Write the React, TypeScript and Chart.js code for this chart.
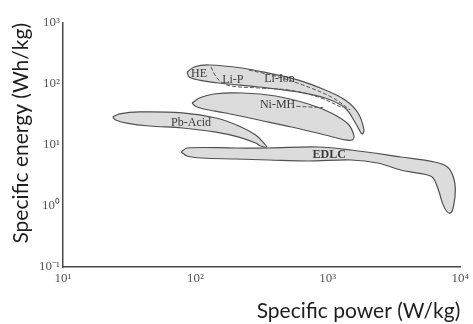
import React, { useEffect, useRef } from 'react';
import { Chart, registerables } from 'chart.js';

Chart.register(...registerables);

// Axis ticks
const xTickValues = [10, 100, 1000, 10000];
const xTickLabels = ['10¹', '10²', '10³', '10⁴'];
const yTickValues = [0.1, 1, 10, 100, 1000];
const yTickLabels = ['10⁻¹', '10⁰', '10¹', '10²', '10³'];

const xTitle = 'Specific power (W/kg)';
const yTitle = 'Specific energy (Wh/kg)';

// Li-based region outline (HE / Li-P / Li-Ion)
const liPower = [86.6, 97.8, 126.7, 224, 357, 600, 956, 1351, 1691, 1875, 1812, 1634, 1351, 956, 600, 301, 151, 107, 89.7, 86.6];
const liEnergy = [157, 190, 205, 183, 151, 116, 79.7, 54.7, 33.5, 17.6, 15.1, 22.1, 40.4, 58.9, 73.9, 89.3, 103.8, 116, 130, 157];

// Ni-MH outline
const nimhPower = [94.5, 107, 138, 224, 403, 713, 1060, 1422, 1578, 1525, 1351, 956, 531, 301, 170, 116, 99.5, 94.5];
const nimhEnergy = [48.8, 58.9, 68.6, 71.2, 63.6, 47.0, 33.5, 22.1, 14.0, 12.1, 12.1, 14.6, 19.7, 25.7, 33.5, 38.9, 43.6, 48.8];

// Pb-Acid outline
const pbPower = [23.7, 26.8, 37.8, 79.5, 143, 213, 285, 328, 345, 311, 285, 213, 143, 79.5, 45.0, 30.2, 25.0, 23.7];
const pbEnergy = [28.8, 32.3, 34.8, 33.5, 27.7, 20.5, 14.6, 10.8, 9.27, 9.63, 10.8, 13.5, 16.3, 19.0, 20.5, 22.9, 25.7, 28.8];

// EDLC outline
const edlcPower = [78.1, 86.6, 202, 357, 847, 1498, 3553, 6393, 8003, 8875, 9189, 8875, 8427, 7865, 7340, 6970, 6393, 5967, 4767, 3553, 2388, 1498, 713, 357, 202, 112, 86.6, 78.1];
const edlcEnergy = [7.68, 8.93, 8.93, 8.93, 9.27, 8.28, 6.36, 5.26, 4.36, 2.99, 1.83, 0.963, 0.768, 0.828, 1.12, 1.63, 2.67, 3.10, 3.47, 3.89, 5.07, 5.68, 5.47, 5.68, 5.89, 6.12, 6.61, 7.68];

// Dashed internal boundaries
const dashAPower = [131.2, 140.6, 155.9, 185.3, 300.6, 504.5, 847, 1305];
const dashAEnergy = [190, 140.4, 107.8, 92.7, 86, 79.7, 61.2, 40.4];
const dashBPower = [252.8, 424.6, 712.9, 1098, 1473];
const dashBEnergy = [169.6, 130.3, 89.3, 58.9, 37.5];
const dashCPower = [579.3, 923.6];
const dashCEnergy = [43, 41];

// Region labels
const labelTexts = ['HE', 'Li-P', 'Li-Ion', 'Ni-MH', 'Pb-Acid', 'EDLC'];
const labelPower = [106.6, 191.8, 431.9, 417.2, 92.8, 1024];
const labelEnergy = [146, 116.3, 120.8, 45.3, 22.9, 6.86];

const zip = (xs: number[], ys: number[]) => xs.map((x, i) => ({ x, y: ys[i] }));

const FILL = '#dcdcdc';
const EDGE = '#505050';

const shape = (label: string, xs: number[], ys: number[]) => ({
  label,
  data: zip(xs, ys),
  showLine: true,
  fill: 'shape',
  backgroundColor: FILL,
  borderColor: EDGE,
  borderWidth: 1.2,
  tension: 0.35,
  pointRadius: 0,
  pointHoverRadius: 0,
});

const dash = (label: string, xs: number[], ys: number[]) => ({
  label,
  data: zip(xs, ys),
  showLine: true,
  fill: false,
  borderColor: '#555',
  borderWidth: 1,
  borderDash: [4, 2],
  tension: 0.35,
  pointRadius: 0,
});

const findLabel = (vals: number[], labels: string[], v: number) => {
  const i = vals.findIndex((t) => Math.abs(Math.log10(t) - Math.log10(v)) < 1e-6);
  return i >= 0 ? labels[i] : '';
};

const labelPlugin = {
  id: 'regionLabels',
  afterDatasetsDraw(chart: any) {
    const { ctx, scales } = chart;
    ctx.save();
    ctx.textAlign = 'center';
    ctx.textBaseline = 'middle';
    ctx.fillStyle = '#3a3a3a';
    labelTexts.forEach((t, i) => {
      ctx.font = (t === 'EDLC' ? 'bold ' : '') + '12px "Liberation Serif", "Times New Roman", serif';
      const px = scales.x.getPixelForValue(labelPower[i]);
      const py = scales.y.getPixelForValue(labelEnergy[i]);
      ctx.fillText(t, px, py);
    });
    ctx.restore();
  },
};

export default function App() {
  const ref = useRef<HTMLCanvasElement | null>(null);

  useEffect(() => {
    document.body.style.margin = '0';
    const canvas = ref.current;
    if (!canvas) return;
    const tickFont = { family: '"Liberation Serif", "Times New Roman", serif', size: 13 };
    const titleFont = { family: 'Lato, "Open Sans", sans-serif', size: 21 };
    const chart = new Chart(canvas, {
      type: 'scatter',
      data: {
        datasets: [
          dash('dashA', dashAPower, dashAEnergy),
          dash('dashB', dashBPower, dashBEnergy),
          dash('dashC', dashCPower, dashCEnergy),
          shape('Li', liPower, liEnergy),
          shape('Pb-Acid', pbPower, pbEnergy),
          shape('Ni-MH', nimhPower, nimhEnergy),
          shape('EDLC', edlcPower, edlcEnergy),
        ] as any,
      },
      options: {
        animation: false,
        responsive: false,
        maintainAspectRatio: false,
        layout: { padding: { top: 23, right: 10, left: 0, bottom: 0 } },
        plugins: { legend: { display: false }, tooltip: { enabled: false } },
        scales: {
          x: {
            type: 'logarithmic',
            min: 10,
            max: 10000,
            afterBuildTicks: (axis: any) => {
              axis.ticks = xTickValues.map((v) => ({ value: v }));
            },
            afterFit: (axis: any) => {
              axis.height = 57;
            },
            grid: { display: false, drawTicks: false },
            border: { display: true, color: '#4a4a4a', width: 1.5 },
            ticks: {
              font: tickFont,
              color: '#555',
              padding: 4,
              maxRotation: 0,
              autoSkip: false,
              callback: (v: any) => findLabel(xTickValues, xTickLabels, Number(v)),
            },
            title: {
              display: true,
              text: xTitle,
              align: 'end',
              color: '#1e1e1e',
              font: titleFont,
              padding: { top: 0, bottom: 0 },
            },
          },
          y: {
            type: 'logarithmic',
            min: 0.1,
            max: 1000,
            afterBuildTicks: (axis: any) => {
              axis.ticks = yTickValues.map((v) => ({ value: v }));
            },
            afterFit: (axis: any) => {
              axis.width = 63;
            },
            grid: { display: false, drawTicks: false },
            border: { display: true, color: '#4a4a4a', width: 1.5 },
            ticks: {
              font: tickFont,
              color: '#555',
              padding: 3,
              autoSkip: false,
              callback: (v: any) => findLabel(yTickValues, yTickLabels, Number(v)),
            },
            title: {
              display: true,
              text: yTitle,
              align: 'end',
              color: '#1e1e1e',
              font: titleFont,
              padding: { top: 9, bottom: 0 },
            },
          },
        },
      } as any,
      plugins: [labelPlugin],
    });
    return () => chart.destroy();
  }, []);

  return (
    <div style={{ width: 473, height: 324, position: 'relative' }}>
      <canvas ref={ref} width={473} height={324} style={{ display: 'block' }} />
    </div>
  );
}
